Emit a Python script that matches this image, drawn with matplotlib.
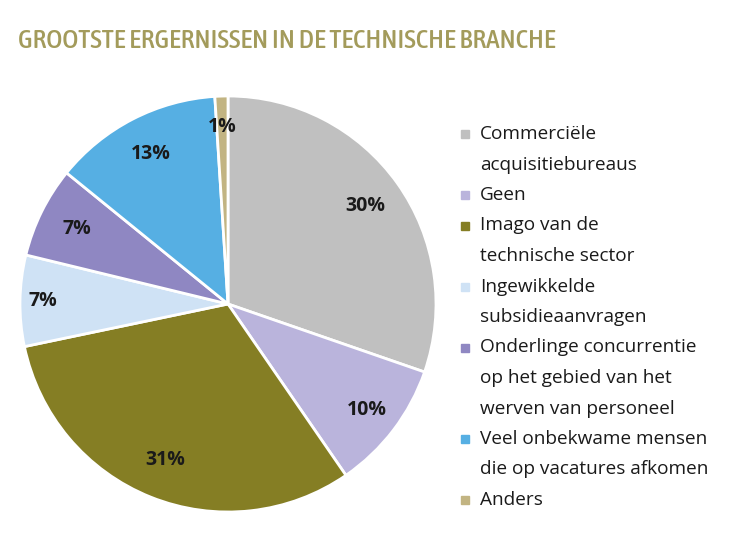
import matplotlib
matplotlib.use("Agg")
import matplotlib.pyplot as plt
import numpy as np
from matplotlib import font_manager

categories = [
    "Commerciële\nacquisitiebureaus",
    "Geen",
    "Imago van de\ntechnische sector",
    "Ingewikkelde\nsubsidieaanvragen",
    "Onderlinge concurrentie\nop het gebied van het\nwerven van personeel",
    "Veel onbekwame mensen\ndie op vacatures afkomen",
    "Anders",
]
values = [30, 10, 31, 7, 7, 13, 1]
colors = ["#c0c0c0", "#bab4dc", "#857e24", "#cfe2f5", "#8f87c2", "#56afe3", "#c2b482"]
title = "GROOTSTE ERGERNISSEN IN DE TECHNISCHE BRANCHE"

# pick the most condensed regular/medium-weight face available for the title
order = {"ultra-condensed": 0, "extra-condensed": 1, "condensed": 2, "semi-condensed": 3}
cands = []
for f in font_manager.fontManager.ttflist:
    st = f.stretch if isinstance(f.stretch, str) else ""
    fn = f.fname.lower()
    rank = order.get(st)
    if rank is None:
        if "extracondensed" in fn or "extra-condensed" in fn:
            rank = 1
        elif "condensed" in fn or "narrow" in fn:
            rank = 2
    if rank is None or f.style != "normal" or "italic" in fn:
        continue
    w = f.weight if isinstance(f.weight, int) else 400
    cands.append((rank, 0 if 400 <= w <= 500 else 1, -w, f.fname))
cands.sort()
if cands:
    title_prop = font_manager.FontProperties(fname=cands[0][3])
else:
    title_prop = font_manager.FontProperties(family="Roboto")
body_font = "Open Sans"

fig = plt.figure(figsize=(7.4, 5.6), dpi=100)
ax = fig.add_axes([20/740, 48/560, 416/740, 416/560])
wedges, _ = ax.pie(values, colors=colors, startangle=90, counterclock=False,
                   radius=1, wedgeprops=dict(edgecolor="white", linewidth=2))
ax.set_xlim(-1, 1)
ax.set_ylim(-1, 1)
ax.set_aspect("equal")
ax.axis("off")

dists = [0.81, 0.84, 0.81, 0.89, 0.81, 0.81, 0.85]
for w, v, d in zip(wedges, values, dists):
    ang = np.deg2rad((w.theta1 + w.theta2) / 2)
    ax.text(d * np.cos(ang), d * np.sin(ang), f"{v}%", ha="center", va="center",
            fontsize=14, fontweight="bold", family=body_font, color="#1a1a1a")

title_prop.set_size(20)
t = fig.text(18/740, 1 - 40/560, title, fontproperties=title_prop, color="#a39b5b",
             va="center", ha="left")
fig.canvas.draw()
wpx = t.get_window_extent().width
title_prop.set_size(min(24, 20 * 535 / wpx))
t.set_fontproperties(title_prop)

y = 134
step = 30.5
for cat, col in zip(categories, colors):
    lines = cat.split("\n")
    fig.patches.append(plt.Rectangle((461/740, 1 - (y + 4)/560), 8/740, 8/560,
                                     transform=fig.transFigure, color=col))
    for ln in lines:
        fig.text(480/740, 1 - y/560, ln, fontsize=13.7, family=body_font,
                 color="#1a1a1a", va="center", ha="left")
        y += step

fig.savefig("out.png", dpi=100, facecolor="white")
